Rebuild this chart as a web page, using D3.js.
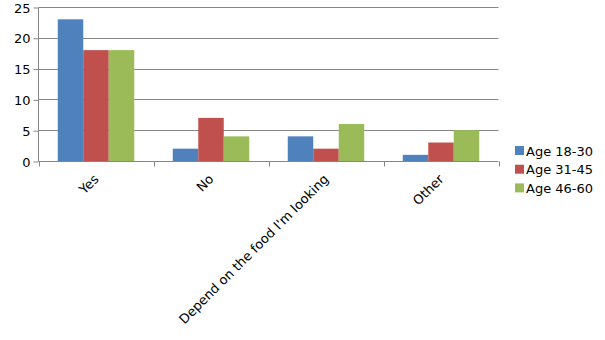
<!DOCTYPE html>
<html lang="en">
<head>
<meta charset="utf-8">
<title>Age groups chart</title>
<script src="https://d3js.org/d3.v7.min.js"></script>
<style>
  body { margin:0; background:#fff; }
  svg text { font-family: "DejaVu Sans", Verdana, sans-serif; font-size:13px; fill:#000; }
</style>
</head>
<body>
<svg id="chart"></svg>
<script>
var categories = ["Yes", "No", "Depend on the food I'm looking", "Other"];
var seriesNames = ["Age 18-30", "Age 31-45", "Age 46-60"];
var age18to30 = [23, 2, 4, 1];
var age31to45 = [18, 7, 2, 3];
var age46to60 = [18, 4, 6, 5];
var yTicks = [0, 5, 10, 15, 20, 25];
var colors = ["#4F81BD", "#C0504D", "#9BBB59"];

var w = 605, h = 340;
var margin = {left:38.5, right:106.5, top:7, bottom:179};
var series = [age18to30, age31to45, age46to60];

var svg = d3.select("#chart").attr("width", w).attr("height", h);

var x = d3.scaleBand()
  .domain(categories)
  .range([margin.left, w - margin.right])
  .paddingInner(0.335)
  .paddingOuter(0.1675);

var xs = d3.scaleBand()
  .domain(seriesNames)
  .range([0, x.bandwidth()]);

var y = d3.scaleLinear()
  .domain([0, 25])
  .range([h - margin.bottom, margin.top]);

// gridlines
svg.append("g")
  .selectAll("line")
  .data(yTicks.slice(1))
  .enter()
  .append("line")
  .attr("x1", margin.left)
  .attr("x2", w - margin.right)
  .attr("y1", d => Math.round(y(d)) + 0.5)
  .attr("y2", d => Math.round(y(d)) + 0.5)
  .attr("stroke", "#868686")
  .attr("stroke-width", 1);

// bars
categories.forEach(function(c, i){
  svg.append("g")
    .selectAll("rect")
    .data(series.map((s, j) => ({name: seriesNames[j], v: s[i], j: j})))
    .enter()
    .append("rect")
    .attr("x", d => x(c) + xs(d.name))
    .attr("width", xs.bandwidth())
    .attr("y", d => y(d.v))
    .attr("height", d => y(0) - y(d.v))
    .attr("fill", d => colors[d.j]);
});

// y axis
var yAxis = d3.axisLeft(y).tickValues(yTicks).tickSize(5).tickPadding(3);
var gy = svg.append("g")
  .attr("transform", "translate(" + margin.left + ",0.5)")
  .call(yAxis);
gy.select(".domain").attr("stroke", "#868686").attr("d", "M0," + y(25) + "V" + y(0));
gy.selectAll(".tick line").attr("stroke", "#868686");
gy.selectAll("text").attr("font-size", 13).attr("font-family", "DejaVu Sans").attr("dy", "0.36em");

// x axis: ticks at band boundaries
var step = x.step();
var boundaries = d3.range(categories.length + 1).map(i => margin.left + i * step);
var gx = svg.append("g").attr("transform", "translate(0," + (Math.round(y(0)) + 0.5) + ")");
gx.append("line")
  .attr("x1", margin.left).attr("x2", w - margin.right)
  .attr("stroke", "#868686");
gx.selectAll("line.tick")
  .data(boundaries)
  .enter()
  .append("line")
  .attr("class", "tick")
  .attr("x1", d => Math.round(d) + 0.5).attr("x2", d => Math.round(d) + 0.5)
  .attr("y1", 0).attr("y2", 5)
  .attr("stroke", "#868686");
gx.selectAll("text")
  .data(categories)
  .enter()
  .append("text")
  .attr("text-anchor", "end")
  .attr("transform", d => "translate(" + (x(d) + x.bandwidth() / 2 - 3) + ",12) rotate(-45)")
  .attr("dy", "0.7em")
  .text(d => d);

// legend
var lg = svg.append("g").attr("transform", "translate(515,146)");
var items = lg.selectAll("g")
  .data(seriesNames)
  .enter()
  .append("g")
  .attr("transform", (d, i) => "translate(0," + i * 18.7 + ")");
items.append("rect")
  .attr("width", 9).attr("height", 9)
  .attr("fill", (d, i) => colors[i]);
items.append("text")
  .attr("x", 11).attr("y", 9.5)
  .attr("font-size", 13)
  .text(d => d);
</script>
</body>
</html>
